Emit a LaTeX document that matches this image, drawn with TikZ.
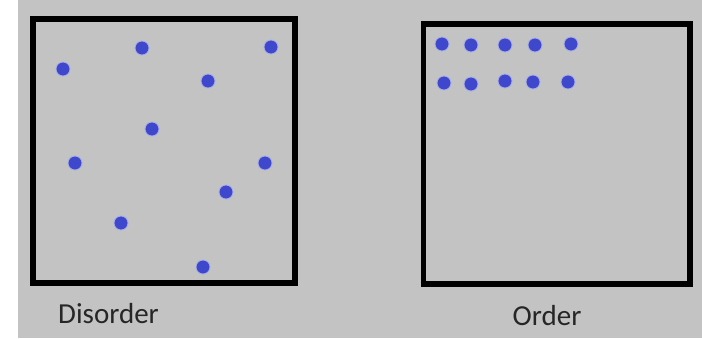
\documentclass[tikz,border=0pt]{standalone}
\usepackage{fontspec}
\setmainfont{Carlito}
\definecolor{panelgray}{RGB}{195,195,195}
\definecolor{dotblue}{RGB}{63,72,204}
\definecolor{dothalo}{RGB}{170,176,230}
\usetikzlibrary{positioning}

\begin{document}
\begin{tikzpicture}[
        x=1pt,y=-1pt,
        box/.style={draw=black,line width=5.5pt,minimum width=#1,inner sep=0pt},
        particle/.style={circle,fill=dotblue,draw=dothalo,line width=0.8pt,minimum size=14pt,inner sep=0pt},
        caption/.style={anchor=base,font=\fontsize{29}{34}\selectfont,text=black!85},
    ]

    \useasboundingbox[fill=white] (0,0) rectangle (702,338);
    \fill[panelgray] (18,0) rectangle (702,338);

    \node[box=262pt,minimum height=264pt] (disorderbox) at (164,151) {};
    \node[box=266.5pt,minimum height=260pt] (orderbox) at (556.75,154) {};

    % scattered particles
    \foreach \px/\py [count=\i] in {63/69, 142/48, 271/47, 208/81, 152/129,
                                   75/163, 265/163, 226/192, 121/223, 203/267}
        \node[particle] (d\i) at (\px,\py) {};

    % arranged particles
    \foreach \px/\py [count=\i] in {442/44, 471/45, 505/45, 535/45, 571/44,
                                   444/83, 471/84, 505/81, 533/82, 568/82}
        \node[particle] (o\i) at (\px,\py) {};

    \node[caption] (disorderlabel) at (108.5,323) {Disorder};
    \node[caption] (orderlabel) at (547,325) {Order};
\end{tikzpicture}
\end{document}
